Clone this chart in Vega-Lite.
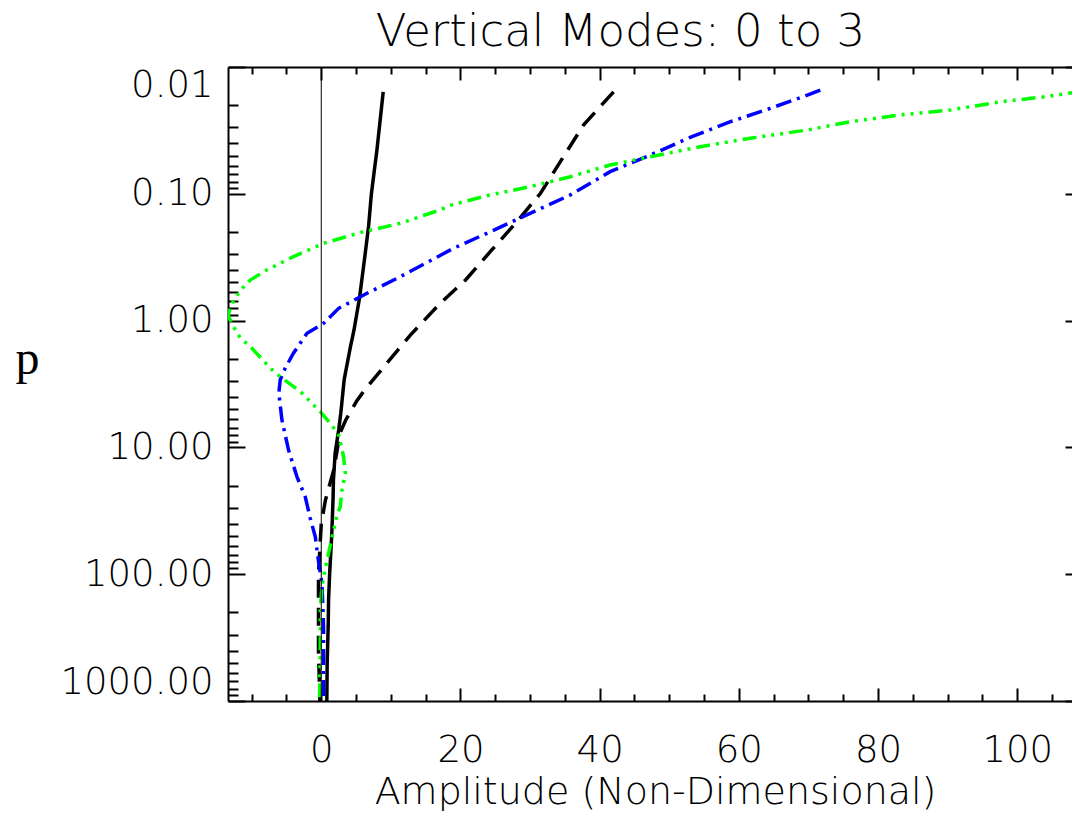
{
  "$schema": "https://vega.github.io/schema/vega-lite/v6.json",
  "autosize": {"type": "none"},
  "padding": {"left": 228, "top": 67, "right": -10, "bottom": 116},
  "width": 854,
  "height": 634,
  "background": "white",
  "config": {"view": {"stroke": null}},
  "data": {"values": [
    {"mode": 0, "p": 1000, "amp": 0.8}, {"mode": 0, "p": 500, "amp": 0.85}, {"mode": 0, "p": 250, "amp": 1.0}, {"mode": 0, "p": 160, "amp": 1.05},
    {"mode": 0, "p": 100, "amp": 1.2}, {"mode": 0, "p": 50, "amp": 1.5}, {"mode": 0, "p": 25, "amp": 1.7}, {"mode": 0, "p": 18, "amp": 1.75},
    {"mode": 0, "p": 11, "amp": 2.0}, {"mode": 0, "p": 7.3, "amp": 2.5}, {"mode": 0, "p": 5.4, "amp": 2.8}, {"mode": 0, "p": 2.9, "amp": 3.3},
    {"mode": 0, "p": 1.6, "amp": 4.2}, {"mode": 0, "p": 1.19, "amp": 4.7}, {"mode": 0, "p": 0.66, "amp": 5.5}, {"mode": 0, "p": 0.3, "amp": 6.3},
    {"mode": 0, "p": 0.18, "amp": 6.8}, {"mode": 0, "p": 0.1, "amp": 7.2}, {"mode": 0, "p": 0.045, "amp": 8.0}, {"mode": 0, "p": 0.0157, "amp": 8.9},

    {"mode": 1, "p": 1000, "amp": -0.2}, {"mode": 1, "p": 400, "amp": -0.4}, {"mode": 1, "p": 100, "amp": -0.4}, {"mode": 1, "p": 40, "amp": 0.0},
    {"mode": 1, "p": 26, "amp": 0.6}, {"mode": 1, "p": 15, "amp": 1.8}, {"mode": 1, "p": 7.7, "amp": 2.7}, {"mode": 1, "p": 6.1, "amp": 3.5},
    {"mode": 1, "p": 4.3, "amp": 5.1}, {"mode": 1, "p": 3.6, "amp": 6.1}, {"mode": 1, "p": 2.24, "amp": 9.2}, {"mode": 1, "p": 1.3, "amp": 12.8},
    {"mode": 1, "p": 0.73, "amp": 17.1}, {"mode": 1, "p": 0.48, "amp": 20.7}, {"mode": 1, "p": 0.277, "amp": 24.5}, {"mode": 1, "p": 0.171, "amp": 27.9},
    {"mode": 1, "p": 0.099, "amp": 31.5}, {"mode": 1, "p": 0.051, "amp": 34.8}, {"mode": 1, "p": 0.0286, "amp": 37.7}, {"mode": 1, "p": 0.0157, "amp": 42.0},

    {"mode": 2, "p": 1000, "amp": 0.3}, {"mode": 2, "p": 540, "amp": 0.33}, {"mode": 2, "p": 260, "amp": 0.33}, {"mode": 2, "p": 118, "amp": 0.1},
    {"mode": 2, "p": 79, "amp": -0.4}, {"mode": 2, "p": 50.6, "amp": -0.86}, {"mode": 2, "p": 36, "amp": -1.6}, {"mode": 2, "p": 24.5, "amp": -2.3},
    {"mode": 2, "p": 17, "amp": -3.5}, {"mode": 2, "p": 10.5, "amp": -4.7}, {"mode": 2, "p": 6.08, "amp": -5.65}, {"mode": 2, "p": 3.74, "amp": -6.1},
    {"mode": 2, "p": 2.94, "amp": -5.9}, {"mode": 2, "p": 2.38, "amp": -5.2}, {"mode": 2, "p": 1.81, "amp": -4.0}, {"mode": 2, "p": 1.26, "amp": -2.05},
    {"mode": 2, "p": 1.05, "amp": 0.33}, {"mode": 2, "p": 0.8, "amp": 2.5}, {"mode": 2, "p": 0.592, "amp": 7.0}, {"mode": 2, "p": 0.54, "amp": 8.5},
    {"mode": 2, "p": 0.451, "amp": 11.35}, {"mode": 2, "p": 0.269, "amp": 19.0}, {"mode": 2, "p": 0.199, "amp": 24.3}, {"mode": 2, "p": 0.1426, "amp": 30.0},
    {"mode": 2, "p": 0.102, "amp": 35.8}, {"mode": 2, "p": 0.0669, "amp": 41.5}, {"mode": 2, "p": 0.0494, "amp": 47.3}, {"mode": 2, "p": 0.0359, "amp": 53.0},
    {"mode": 2, "p": 0.027, "amp": 58.8}, {"mode": 2, "p": 0.0212, "amp": 64.5}, {"mode": 2, "p": 0.0171, "amp": 69.3}, {"mode": 2, "p": 0.0152, "amp": 71.7},

    {"mode": 3, "p": 1000, "amp": -0.24}, {"mode": 3, "p": 330, "amp": -0.14}, {"mode": 3, "p": 191, "amp": -0.14}, {"mode": 3, "p": 125, "amp": 0.1},
    {"mode": 3, "p": 89.8, "amp": 0.57}, {"mode": 3, "p": 68.4, "amp": 1.05}, {"mode": 3, "p": 44.8, "amp": 1.77}, {"mode": 3, "p": 34, "amp": 2.26},
    {"mode": 3, "p": 29.4, "amp": 2.73}, {"mode": 3, "p": 21.7, "amp": 2.97}, {"mode": 3, "p": 16, "amp": 3.45}, {"mode": 3, "p": 11.8, "amp": 3.2},
    {"mode": 3, "p": 7.98, "amp": 2.5}, {"mode": 3, "p": 6.46, "amp": 1.3}, {"mode": 3, "p": 5.23, "amp": -0.14}, {"mode": 3, "p": 3.63, "amp": -3.0},
    {"mode": 3, "p": 2.77, "amp": -5.9}, {"mode": 3, "p": 2.38, "amp": -7.3}, {"mode": 3, "p": 1.6, "amp": -10.2}, {"mode": 3, "p": 1.38, "amp": -11.6},
    {"mode": 3, "p": 1.12, "amp": -12.6}, {"mode": 3, "p": 0.904, "amp": -13.4}, {"mode": 3, "p": 0.73, "amp": -12.8}, {"mode": 3, "p": 0.574, "amp": -11.6},
    {"mode": 3, "p": 0.479, "amp": -10.2}, {"mode": 3, "p": 0.398, "amp": -7.8}, {"mode": 3, "p": 0.313, "amp": -4.0}, {"mode": 3, "p": 0.246, "amp": 0.33},
    {"mode": 3, "p": 0.202, "amp": 5.6}, {"mode": 3, "p": 0.171, "amp": 11.35}, {"mode": 3, "p": 0.134, "amp": 17.1}, {"mode": 3, "p": 0.1225, "amp": 18.7},
    {"mode": 3, "p": 0.102, "amp": 24.3}, {"mode": 3, "p": 0.0879, "amp": 30.0}, {"mode": 3, "p": 0.0733, "amp": 35.8}, {"mode": 3, "p": 0.0593, "amp": 41.5},
    {"mode": 3, "p": 0.051, "amp": 47.3}, {"mode": 3, "p": 0.0425, "amp": 54.5}, {"mode": 3, "p": 0.0365, "amp": 61.6}, {"mode": 3, "p": 0.0314, "amp": 69.8},
    {"mode": 3, "p": 0.027, "amp": 76.0}, {"mode": 3, "p": 0.0239, "amp": 83.2}, {"mode": 3, "p": 0.0218, "amp": 90.4}, {"mode": 3, "p": 0.0188, "amp": 97.6},
    {"mode": 3, "p": 0.0171, "amp": 104.3}, {"mode": 3, "p": 0.0155, "amp": 109.3}
  ]},
  "resolve": {"axis": {"x": "independent", "y": "independent"}},
  "layer": [
    {
      "mark": {"type": "line", "strokeWidth": 3.5, "clip": true, "strokeCap": "butt"},
      "encoding": {
        "x": {"field": "amp", "type": "quantitative",
          "scale": {"domain": [-13.4, 109.3], "nice": false, "zero": false},
          "axis": {"orient": "bottom", "grid": false,
            "values": [-10, -5, 0, 5, 10, 15, 20, 25, 30, 35, 40, 45, 50, 55, 60, 65, 70, 75, 80, 85, 90, 95, 100, 105],
            "tickSize": {"condition": {"test": "datum.value % 20 === 0", "value": -13}, "value": -7},
            "tickWidth": 2, "tickColor": "black", "domainColor": "black", "domainWidth": 2,
            "format": "d", "labelExpr": "datum.value % 20 === 0 ? datum.label : ''",
            "labelFont": "DejaVu Sans", "labelFontSize": 37, "labelFontWeight": 200, "labelColor": "black", "labelPadding": 44,
            "labelFlush": false, "labelOverlap": false,
            "title": "Amplitude (Non-Dimensional)", "titleFont": "DejaVu Sans", "titleFontSize": 38, "titleFontWeight": 200, "titleColor": "black",
            "titleBaseline": "alphabetic", "titleY": 102}},
        "y": {"field": "p", "type": "quantitative",
          "scale": {"type": "log", "domain": [0.01, 1000], "reverse": true, "nice": false},
          "axis": {"orient": "left", "grid": false,
            "values": [0.01, 0.02, 0.03, 0.04, 0.05, 0.06, 0.07, 0.08, 0.09, 0.1, 0.2, 0.3, 0.4, 0.5, 0.6, 0.7, 0.8, 0.9, 1, 2, 3, 4, 5, 6, 7, 8, 9, 10, 20, 30, 40, 50, 60, 70, 80, 90, 100, 200, 300, 400, 500, 600, 700, 800, 900, 1000],
            "tickSize": {"condition": {"test": "abs(log(datum.value)/LN10 - round(log(datum.value)/LN10)) < 0.001", "value": -17}, "value": -10},
            "tickWidth": 2, "tickColor": "black", "domainColor": "black", "domainWidth": 2,
            "format": ".2f", "labelExpr": "abs(log(datum.value)/LN10 - round(log(datum.value)/LN10)) < 0.001 ? datum.label : ''",
            "labelFont": "DejaVu Sans", "labelFontSize": 37, "labelFontWeight": 200, "labelColor": "black", "labelPadding": 32,
            "labelFlush": true, "labelOverlap": false,
            "title": "p", "titleFont": "Liberation Serif", "titleFontSize": 48, "titleFontWeight": "normal", "titleColor": "black",
            "titleAngle": 0, "titleAlign": "center", "titleBaseline": "alphabetic", "titleX": -201, "titleY": 306}},
        "color": {"field": "mode", "type": "nominal", "scale": {"domain": [0, 1, 2, 3], "range": ["#000000", "#000000", "#0000ff", "#00ff00"]}, "legend": null},
        "strokeDash": {"field": "mode", "type": "nominal", "scale": {"domain": [0, 1, 2, 3], "range": [[1, 0], [18, 10], [16, 6, 3, 6], [14, 6, 3, 6, 3, 6, 3, 6]]}, "legend": null},
        "order": {"field": "p", "type": "quantitative"}
      }
    },
    {
      "mark": {"type": "point", "opacity": 0},
      "encoding": {
        "x": {"field": "amp", "type": "quantitative",
          "axis": {"orient": "top", "grid": false, "labels": false,
            "values": [-10, -5, 0, 5, 10, 15, 20, 25, 30, 35, 40, 45, 50, 55, 60, 65, 70, 75, 80, 85, 90, 95, 100, 105],
            "tickSize": {"condition": {"test": "datum.value % 20 === 0", "value": -13}, "value": -7},
            "tickWidth": 2, "tickColor": "black", "domainColor": "black", "domainWidth": 2,
            "title": "Vertical Modes: 0 to 3", "titleFont": "DejaVu Sans", "titleFontSize": 45, "titleFontWeight": 200, "titleColor": "black",
            "titleAngle": 0, "titleAlign": "center", "titleBaseline": "alphabetic", "titleX": 392, "titleY": -22}},
        "y": {"field": "p", "type": "quantitative",
          "axis": {"orient": "right", "grid": false, "labels": false, "title": null,
            "values": [0.01, 0.02, 0.03, 0.04, 0.05, 0.06, 0.07, 0.08, 0.09, 0.1, 0.2, 0.3, 0.4, 0.5, 0.6, 0.7, 0.8, 0.9, 1, 2, 3, 4, 5, 6, 7, 8, 9, 10, 20, 30, 40, 50, 60, 70, 80, 90, 100, 200, 300, 400, 500, 600, 700, 800, 900, 1000],
            "tickSize": {"condition": {"test": "abs(log(datum.value)/LN10 - round(log(datum.value)/LN10)) < 0.001", "value": -17}, "value": -10},
            "tickWidth": 2, "tickColor": "black", "domainColor": "black", "domainWidth": 2}}
      }
    },
    {
      "data": {"values": [{"zero": 0}]},
      "mark": {"type": "rule", "color": "black", "strokeWidth": 1},
      "encoding": {"x": {"field": "zero", "type": "quantitative", "axis": null}}
    }
  ]
}
